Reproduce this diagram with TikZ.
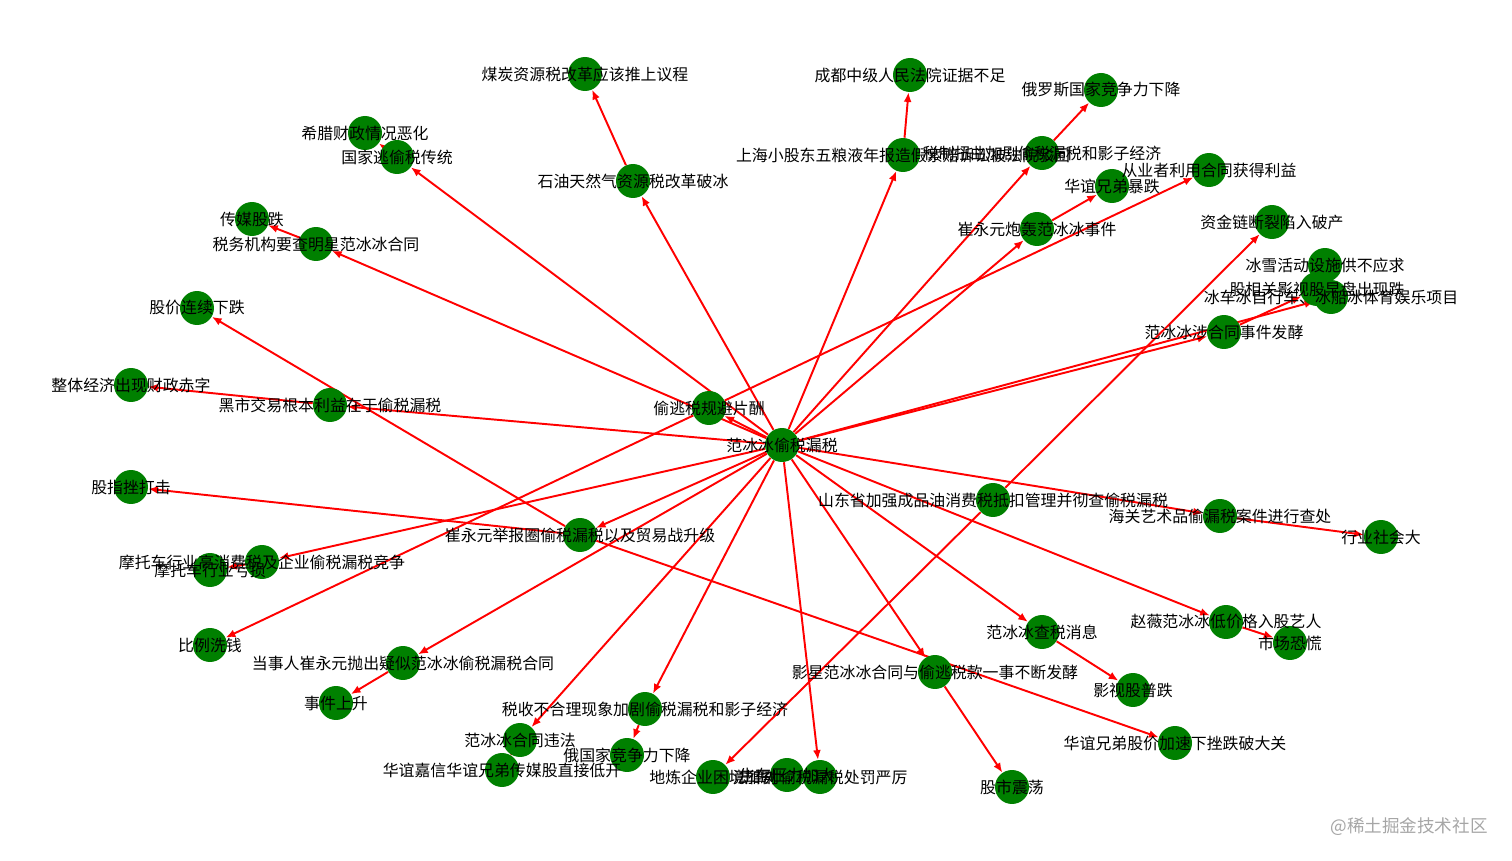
\documentclass[tikz,border=0pt]{standalone}
\usepackage{fontspec}
\setmainfont{Noto Sans CJK SC}
\usetikzlibrary{arrows.meta}
\pgfdeclarelayer{edges}
\pgfdeclarelayer{labels}
\pgfsetlayers{edges,main,labels}
\definecolor{nodegreen}{RGB}{0,128,0}
\tikzset{
  vert/.style={circle, fill=nodegreen, minimum size=0.68cm, inner sep=0pt},
  lbl/.style={inner sep=0pt, font=\fontsize{9.05pt}{10pt}\selectfont},
  rel/.style={-{Latex[length=5.5pt,width=4.5pt]}, red, line width=1.1pt}
}

\begin{document}
\begin{tikzpicture}[x=0.02cm, y=-0.02cm]
  \useasboundingbox (0,0) rectangle (1512,861);
  \foreach \n/\x/\y/\t in {
      c/782/445/范冰冰偷税漏税, tt/709/408/偷逃税规避片酬,
      syq/633/181/石油天然气资源税改革破冰, mt/585/74/煤炭资源税改革应该推上议程,
      sh/903/155/上海小股东五粮液年报造假索赔诉讼被法院驳回, cd/910/75/成都中级人民法院证据不足,
      sz/1042/153/税制扭曲加剧偷税漏税和影子经济, els/1101/90/俄罗斯国家竞争力下降,
      hyb/1112/186/华谊兄弟暴跌, cyz/1209/170/从业者利用合同获得利益,
      cyp/1037/229/崔永元炮轰范冰冰事件, zjl/1272/222/资金链断裂陷入破产,
      bx/1325/265/冰雪活动设施供不应求, gx/1317/289/股相关影视股早盘出现跌,
      bc/1331/297/冰车冰自行车、冰船冰体育娱乐项目, sht/1224/332/范冰冰涉合同事件发酵,
      xl/365/133/希腊财政情况恶化, gj/397/157/国家逃偷税传统,
      cm/252/219/传媒股跌, swj/316/244/税务机构要查明星范冰冰合同,
      gjx/197/308/股价连续下跌, zt/131/385/整体经济出现财政赤字,
      hs/330/405/黑市交易根本利益在于偷税漏税, gz/131/487/股指挫打击,
      mtg/262/562/摩托车行业高消费税及企业偷税漏税竞争, mtk/210/570/摩托车行业亏损,
      bl/210/645/比例洗钱, dsr/403/663/当事人崔永元抛出疑似范冰冰偷税漏税合同,
      sj/336/703/事件上升, cyj/580/535/崔永元举报圈偷税漏税以及贸易战升级,
      hw/520/740/范冰冰合同违法, hyj/502/770/华谊嘉信华谊兄弟传媒股直接低开,
      ss/645/709/税收不合理现象加剧偷税漏税和影子经济, egj/627/755/俄国家竞争力下降,
      dl/713/777/地炼企业困境加剧, scyl/787/775/生存压力加大,
      fl/820/777/法律对偷税漏税处罚严厉, yx/935/672/影星范冰冰合同与偷逃税款一事不断发酵,
      gs/1012/787/股市震荡, cs/1042/632/范冰冰查税消息,
      ysg/1133/690/影视股普跌, hyg/1175/743/华谊兄弟股价加速下挫跌破大关,
      zw/1226/622/赵薇范冰冰低价格入股艺人, sck/1290/643/市场恐慌,
      hg/1220/516/海关艺术品偷漏税案件进行查处, hysh/1381/537/行业社会大,
      sd/993/500/山东省加强成品油消费税抵扣管理并彻查偷税漏税}{
    \node[vert] (\n) at (\x,\y) {};
    \begin{pgfonlayer}{labels}
      \node[lbl] (t-\n) at (\x,\y) {\t};
    \end{pgfonlayer}
  }
  \begin{pgfonlayer}{edges}
    \foreach \a/\b in {c/tt, c/syq, syq/mt, c/sh, sh/cd, c/sz, sz/els, c/cyp, cyp/hyb,
        tt/cyz, c/sht, c/bc, sht/gx, bc/bx, c/gj, gj/xl, c/swj, swj/cm, cyj/gjx,
        c/hs, hs/zt, cyj/gz, c/cyj, cyj/hyg, c/mtg, mtg/mtk, tt/bl, c/dsr, dsr/sj,
        c/hw, hw/hyj, c/ss, ss/egj, sd/dl, sd/zjl, c/fl, c/yx, yx/gs, c/cs, cs/ysg,
        c/zw, zw/sck, c/hg, hg/hysh}
      \draw[rel] (\a) -- (\b);
  \end{pgfonlayer}
  \node[text=black!35, inner sep=0pt, font=\fontsize{10pt}{11pt}\selectfont] (wm) at (1409,827) {@稀土掘金技术社区};
\end{tikzpicture}
\end{document}
